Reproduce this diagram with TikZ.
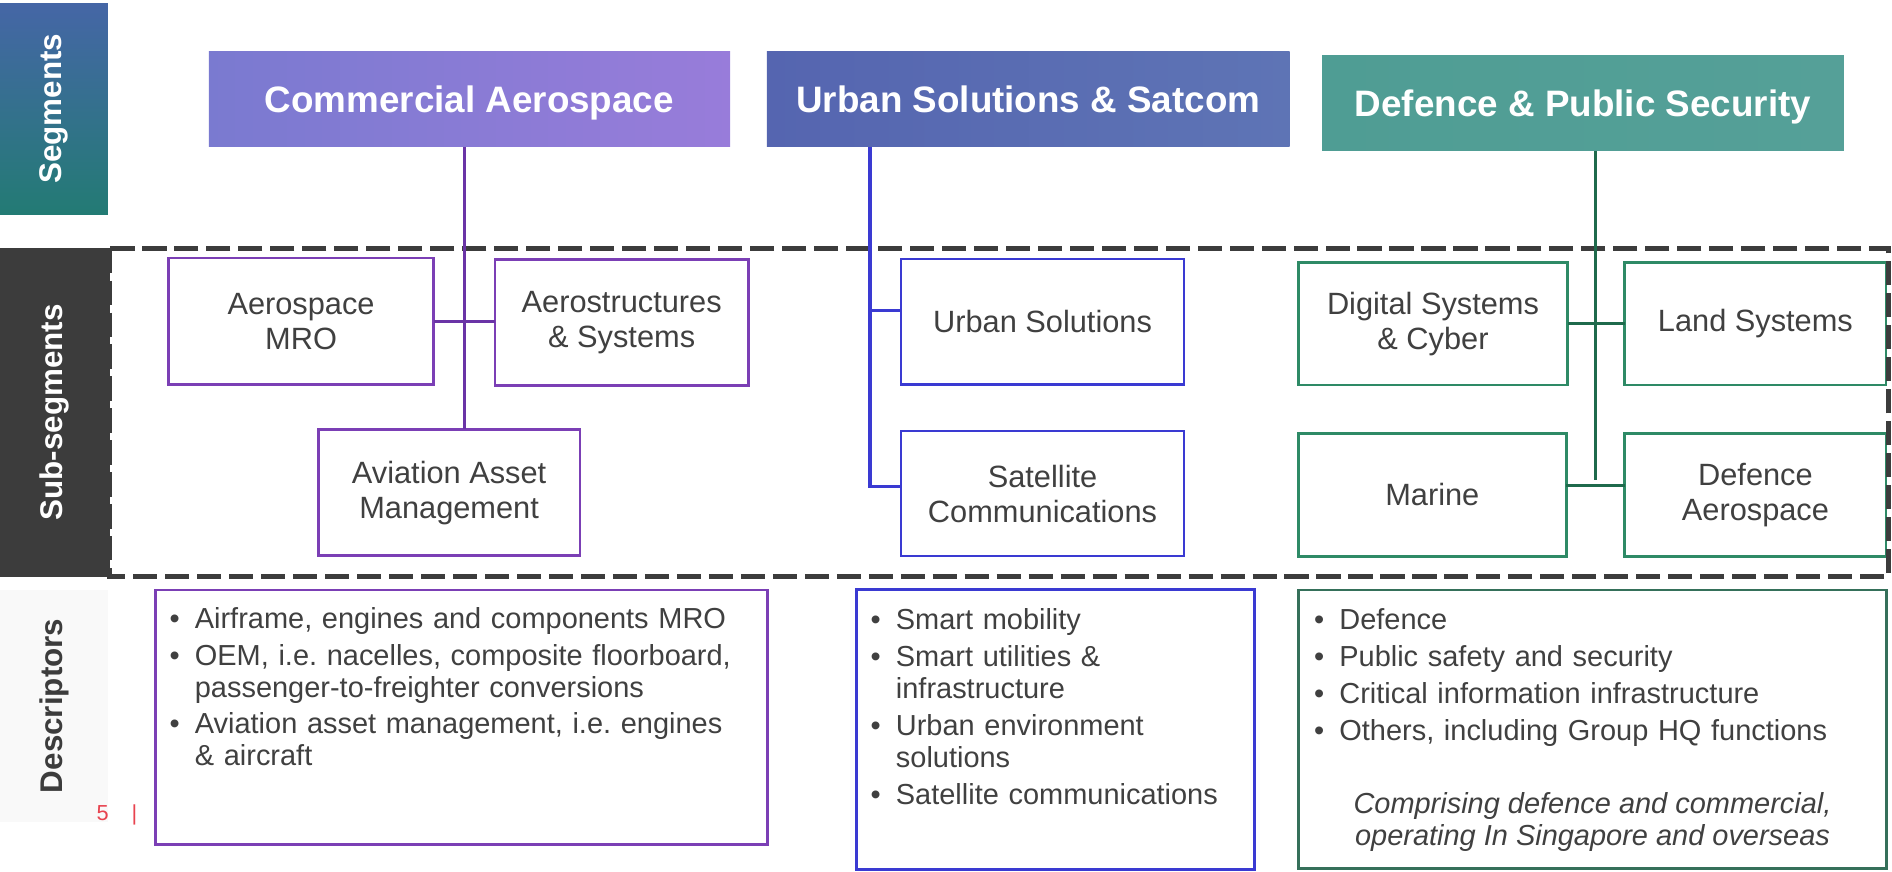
\documentclass[tikz,border=0pt]{standalone}
\usepackage{fontspec}
\setmainfont{Liberation Sans}
\usepackage{tikz}
\definecolor{capurple}{HTML}{7B3FB5}
\definecolor{calink}{HTML}{6A34A6}
\definecolor{usblue}{HTML}{3A3AD2}
\definecolor{dpsgreen}{HTML}{2E8A66}
\definecolor{dpslink}{HTML}{1F6A4C}
\definecolor{dpsdesc}{HTML}{35705A}
\definecolor{txtgray}{HTML}{404040}
\definecolor{darkgray}{HTML}{3C3C3C}
\definecolor{pagered}{HTML}{E8434F}
\definecolor{segblue}{HTML}{4566A6}
\definecolor{segteal}{HTML}{237B74}
\tikzset{
  every node/.style={inner sep=0pt, outer sep=0pt},
  seghead/.style={text=white, text height=24pt, text depth=2pt,
                  font=\fontsize{30.5}{36}\selectfont\bfseries},
  sidelabel/.style={rotate=90, font=\fontsize{26}{30}\selectfont\bfseries},
  subbox/.style={draw, line width=2.2pt, fill=white, align=center, text=txtgray,
                 font=\fontsize{25.5}{29}\selectfont},
  descbox/.style={draw, line width=2.4pt},
  desctext/.style={anchor=base west, align=left, text width=#1, text=txtgray,
                   font=\fontsize{24}{26.5}\selectfont\frenchspacing},
  bus/.style={line width=2.5pt},
}
\newcommand{\bitem}{\makebox[21pt][l]{\textbullet}}
\newcommand{\bcont}{\hspace*{21pt}}

\begin{document}
\begin{tikzpicture}[x=1pt,y=-1pt]
    \useasboundingbox (0,0) rectangle (1568,722);
    % side labels
    \node[minimum width=89.5, minimum height=175.5, top color=segblue, bottom color=segteal]
          (segbg) at (44.75,90.25) {};
    \node[sidelabel, text=white] (seglbl) at (segbg.center) {Segments};
    \node[sidelabel, text=white, fill=darkgray, minimum width=272.4, minimum height=91]
          (sublbl) at (45.5,341.8) {Sub-segments};
    \node[sidelabel, text=darkgray, fill=gray!5, minimum width=192, minimum height=89.5]
          (desclbl) at (44.75,585) {Descriptors};
    \node[anchor=base west, text=pagered, font=\fontsize{18}{20}\selectfont] (pageno) at (80,680) {5\hspace{19pt}|};
    % segments
    \node[seghead, minimum width=432, minimum height=79.3,
          left color={rgb,255:red,122;green,122;blue,208}, middle color={rgb,255:red,110;green,78;blue,200},
          right color={rgb,255:red,152;green,124;blue,218}] (ca) at (389,82) {Commercial Aerospace};
    \node[seghead, minimum width=433.3, minimum height=79.3,
          left color={rgb,255:red,85;green,101;blue,176}, middle color={rgb,255:red,58;green,76;blue,149},
          right color={rgb,255:red,94;green,116;blue,181}] (us) at (852.2,82) {Urban Solutions \& Satcom};
    \node[seghead, minimum width=432.3, minimum height=79.3,
          left color={rgb,255:red,79;green,157;blue,148}, middle color={rgb,255:red,47;green,122;blue,110},
          right color={rgb,255:red,85;green,160;blue,152}] (dps) at (1311.9,85.3) {Defence \& Public Security};
    % sub-segments
    \node[subbox, draw=capurple, minimum width=220, minimum height=104.5] (mro) at (249.5,266.2) {Aerospace\\MRO};
    \node[subbox, draw=capurple, minimum width=210, minimum height=104.4] (aero) at (515.2,267.2) {Aerostructures\\\& Systems};
    \node[subbox, draw=capurple, minimum width=217, minimum height=104.7] (aam) at (372.2,408.2) {Aviation Asset\\Management};
    \node[subbox, draw=usblue, minimum width=234.6, minimum height=103.8] (urb) at (864,266.6) {Urban Solutions};
    \node[subbox, draw=usblue, minimum width=234.6, minimum height=103.6] (sat) at (864,409) {Satellite\\Communications};
    \node[subbox, draw=dpsgreen, minimum width=223.3, minimum height=101.6] (dsc) at (1187.6,268.2) {Digital Systems\\\& Cyber};
    \node[subbox, draw=dpsgreen, minimum width=216.5, minimum height=101.6] (land) at (1454.8,268.2) {Land Systems};
    \node[subbox, draw=dpsgreen, minimum width=222, minimum height=102.4] (mar) at (1187,410.2) {Marine};
    \node[subbox, draw=dpsgreen, minimum width=216.5, minimum height=102.4] (dae) at (1454.8,410.2) {Defence\\Aerospace};
    \draw[line width=4pt, darkgray, dash pattern=on 20pt off 6.5pt] (91,206) rectangle (1565,478);
    % connectors
    \coordinate (cabus) at (384.8,0);
    \draw[bus, calink] (ca.south -| cabus) -- (cabus |- aam.north);
    \draw[bus, calink] (mro.east) -- (mro.east -| aero.west);
    \coordinate (usbus) at (721,0);
    \coordinate (urbjoin) at ([yshift=9pt]urb.west);
    \draw[bus, usblue] (us.south -| usbus) |- ([yshift=6pt]sat.west);
    \draw[bus, usblue] (usbus |- urbjoin) -- (urbjoin);
    \coordinate (dpsbus) at (1322,0);
    \coordinate (marjoin) at ([yshift=8pt]mar.east);
    \coordinate (dpsend) at (dpsbus |- marjoin);
    \draw[bus, dpslink] (dps.south -| dpsbus) -- ([yshift=4pt]dpsend);
    \draw[bus, dpslink] (dsc.east) -- (dsc.east -| land.west);
    \draw[bus, dpslink] (marjoin) -- (marjoin -| dae.west);
    % descriptors
    \node[descbox, draw=capurple, minimum width=507.4, minimum height=210.8] (cadesc) at (382.7,594.4) {};
    \node[descbox, draw=usblue, minimum width=329.3, minimum height=232.1] (usdesc) at (874.65,604.45) {};
    \node[descbox, draw=dpsdesc, minimum width=487.6, minimum height=230.6] (dpsdesc) at (1319.8,604.3) {};
    \node[desctext=480] (caitems) at (140.5,520.7) {\bitem Airframe, engines and components MRO\\[4pt]
        \bitem OEM, i.e. nacelles, composite floorboard,\\ \bcont passenger-to-freighter conversions\\[4pt]
        \bitem Aviation asset management, i.e. engines\\ \bcont \& aircraft};
    \node[desctext=310] (usitems) at (721.5,522) {\bitem Smart mobility\\[4pt]
        \bitem Smart utilities \&\\ \bcont infrastructure\\[4pt]
        \bitem Urban environment\\ \bcont solutions\\[4pt]
        \bitem Satellite communications};
    \node[desctext=460] (dpsitems) at (1089,522) {\bitem Defence\\[4pt]
        \bitem Public safety and security\\[4pt]
        \bitem Critical information infrastructure\\[4pt]
        \bitem Others, including Group HQ functions};
    \node[anchor=base, align=center, text=txtgray, font=\fontsize{24}{26.5}\selectfont\itshape]
        (dpsnote) at (dpsdesc.center |- 0,700.3) {Comprising defence and commercial,\\operating In Singapore and overseas};
\end{tikzpicture}
\end{document}
